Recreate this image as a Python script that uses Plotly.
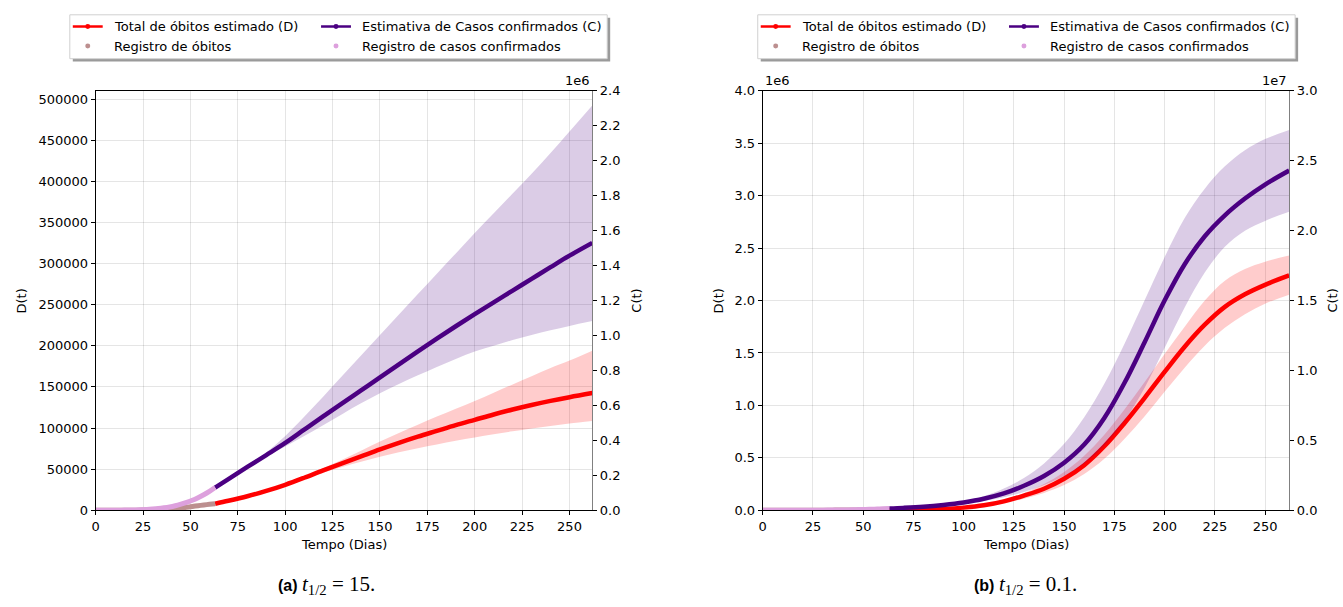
import plotly.graph_objects as go

W, H = 1343, 607

# ---------------- data ----------------
days_reg = [0, 3, 6, 9, 12, 15, 18, 21, 24, 27, 30, 33, 36, 39, 42, 45, 48, 51, 54, 57, 60, 63]
reg_cases = [0, 10, 50, 150, 350, 700, 1200, 2000, 3000, 4500, 7000, 10000, 14000, 19000,
             26000, 35000, 45000, 57000, 72000, 89000, 108000, 130000]
reg_deaths = [0, 0, 0, 1, 5, 15, 40, 90, 180, 320, 520, 800, 1150, 1600, 2200, 2900, 3700,
              4600, 5500, 6400, 7200, 8000]

days_est = [63, 70, 80, 90, 100, 110, 120, 130, 140, 150, 160, 170, 180, 190, 200, 210, 220,
            230, 240, 250, 262]

# (a) t1/2 = 15
a_D_mid = [8000, 11500, 17000, 23500, 31000, 39500, 48500, 57000, 65500, 74000, 82000, 89500,
           96500, 103500, 110000, 116500, 122500, 128000, 133000, 137500, 142500]
a_D_up = [8000, 11500, 17000, 23600, 31500, 40500, 51000, 61500, 72500, 83500, 94000, 104000,
          114000, 123500, 133000, 143000, 153000, 163000, 173000, 182000, 194000]
a_D_lo = [8000, 11500, 17000, 23400, 30500, 38000, 45500, 52500, 59000, 65000, 70500, 75500,
          80000, 84500, 88500, 92500, 96000, 99500, 102500, 105500, 108600]
a_C_mid = [130000, 178000, 248000, 316000, 385000, 461000, 537000, 612000, 686000, 760000,
           835000, 909000, 982000, 1053000, 1122000, 1190000, 1257000, 1324000, 1391000,
           1457000, 1530000]
a_C_up = [130000, 178000, 250000, 330000, 425000, 535000, 650000, 768000, 886000, 1003000,
          1120000, 1237000, 1354000, 1470000, 1587000, 1700000, 1813000, 1926000, 2044000,
          2167000, 2316000]
a_C_lo = [130000, 178000, 246000, 308000, 365000, 425000, 487000, 550000, 612000, 670000,
          722000, 772000, 820000, 866000, 908000, 942000, 974000, 1003000, 1030000, 1055000,
          1083000]

# (b) t1/2 = 0.1
b_D_mid = [1000, 2000, 5000, 12000, 25000, 47000, 85000, 140000, 205000, 300000, 430000,
           610000, 830000, 1070000, 1320000, 1560000, 1770000, 1940000, 2060000, 2150000,
           2240000]
b_D_up = [1000, 2200, 5500, 14000, 29000, 56000, 100000, 165000, 250000, 365000, 520000,
          720000, 960000, 1220000, 1490000, 1750000, 2000000, 2190000, 2300000, 2370000,
          2430000]
b_D_lo = [1000, 1800, 4500, 10000, 21000, 40000, 70000, 110000, 165000, 240000, 345000,
          490000, 680000, 895000, 1130000, 1360000, 1570000, 1740000, 1870000, 1970000,
          2056000]
b_C_mid = [130000, 170000, 250000, 380000, 560000, 820000, 1200000, 1750000, 2450000,
           3400000, 4700000, 6600000, 9100000, 12000000, 15000000, 17600000, 19600000,
           21100000, 22300000, 23300000, 24300000]
b_C_up = [130000, 175000, 270000, 430000, 660000, 1000000, 1550000, 2300000, 3350000,
          4750000, 6650000, 9050000, 11900000, 15000000, 18100000, 20900000, 23000000,
          24600000, 25750000, 26550000, 27200000]
b_C_lo = [130000, 165000, 230000, 340000, 480000, 670000, 930000, 1300000, 1800000, 2450000,
          3350000, 4650000, 6400000, 8750000, 11600000, 14500000, 17000000, 18850000,
          20000000, 20700000, 21350000]

x_ticks = [0, 25, 50, 75, 100, 125, 150, 175, 200, 225, 250]
a_D_ticks = [0, 50000, 100000, 150000, 200000, 250000, 300000, 350000, 400000, 450000, 500000]
a_C_ticks = [0, 200000, 400000, 600000, 800000, 1000000, 1200000, 1400000, 1600000, 1800000,
             2000000, 2200000, 2400000]
a_C_ticktext = ["0.0", "0.2", "0.4", "0.6", "0.8", "1.0", "1.2", "1.4", "1.6", "1.8", "2.0",
                "2.2", "2.4"]
b_D_ticks = [0, 500000, 1000000, 1500000, 2000000, 2500000, 3000000, 3500000, 4000000]
b_D_ticktext = ["0.0", "0.5", "1.0", "1.5", "2.0", "2.5", "3.0", "3.5", "4.0"]
b_C_ticks = [0, 5000000, 10000000, 15000000, 20000000, 25000000, 30000000]
b_C_ticktext = ["0.0", "0.5", "1.0", "1.5", "2.0", "2.5", "3.0"]

legend_labels = ["Total de óbitos estimado (D)", "Estimativa de Casos confirmados (C)",
                 "Registro de óbitos", "Registro de casos confirmados"]

# ---------------- styles ----------------
RED = "#ff0000"
INDIGO = "#4b0082"
ROSY = "#bc8f8f"
PLUM = "#dda0dd"
RED_FILL = "rgba(255,0,0,0.2)"
IND_FILL = "rgba(75,0,130,0.2)"
FONT = "DejaVu Sans"
GRID = "rgba(0,0,0,0.1)"


def X(px):
    return px / W


def Y(py):
    return 1 - py / H


fig = go.Figure()


def band(xa, ya, lo, up, fillcolor):
    fig.add_trace(go.Scatter(x=days_est, y=lo, mode="lines",
                             line=dict(width=0, shape="spline", color="rgba(0,0,0,0)"),
                             xaxis=xa, yaxis=ya, hoverinfo="skip", showlegend=False))
    fig.add_trace(go.Scatter(x=days_est, y=up, mode="lines", fill="tonexty",
                             fillcolor=fillcolor,
                             line=dict(width=0, shape="spline", color="rgba(0,0,0,0)"),
                             xaxis=xa, yaxis=ya, hoverinfo="skip", showlegend=False))


def add_panel(xa, yd, yc, D_mid, D_lo, D_up, C_mid, C_lo, C_up):
    band(xa, yd, D_lo, D_up, RED_FILL)
    fig.add_trace(go.Scatter(x=days_est, y=D_mid, mode="lines",
                             line=dict(color=RED, width=4.5, shape="spline"),
                             xaxis=xa, yaxis=yd, showlegend=False))
    fig.add_trace(go.Scatter(x=days_reg, y=reg_deaths, mode="lines",
                             line=dict(color=ROSY, width=5, shape="spline"),
                             xaxis=xa, yaxis=yd, showlegend=False))
    band(xa, yc, C_lo, C_up, IND_FILL)
    fig.add_trace(go.Scatter(x=days_est, y=C_mid, mode="lines",
                             line=dict(color=INDIGO, width=4.5, shape="spline"),
                             xaxis=xa, yaxis=yc, showlegend=False))
    fig.add_trace(go.Scatter(x=days_reg, y=reg_cases, mode="lines",
                             line=dict(color=PLUM, width=5, shape="spline"),
                             xaxis=xa, yaxis=yc, showlegend=False))


add_panel("x", "y", "y2", a_D_mid, a_D_lo, a_D_up, a_C_mid, a_C_lo, a_C_up)
add_panel("x2", "y3", "y4", b_D_mid, b_D_lo, b_D_up, b_C_mid, b_C_lo, b_C_up)

tickfont = dict(family=FONT, size=13, color="#000")
common_x = dict(range=[0, 262], tickvals=x_ticks, ticks="outside", ticklen=4, tickcolor="#000",
                showline=True, linecolor="#000", linewidth=1, mirror=True, showgrid=True,
                gridcolor=GRID, zeroline=False, tickfont=tickfont, fixedrange=True)
common_y = dict(ticks="outside", ticklen=4, tickcolor="#000", showline=True, linecolor="#000",
                linewidth=1, showgrid=True, gridcolor=GRID, zeroline=False, tickfont=tickfont)
common_y2 = dict(ticks="outside", ticklen=4, tickcolor="#000", showline=True,
                 linecolor="#808080", linewidth=1, showgrid=False, zeroline=False,
                 tickfont=tickfont, side="right")

ydom = [Y(516), Y(86)]
fig.update_layout(
    width=W, height=H, margin=dict(l=0, r=0, t=0, b=0),
    paper_bgcolor="white", plot_bgcolor="white", showlegend=False,
    xaxis=dict(domain=[X(92), X(590)], anchor="y", **common_x),
    yaxis=dict(domain=ydom, anchor="x", range=[0, 510000], tickvals=a_D_ticks,
               tickformat="d", **common_y),
    yaxis2=dict(overlaying="y", anchor="x", range=[0, 2400000], tickvals=a_C_ticks,
                ticktext=a_C_ticktext, **common_y2),
    xaxis2=dict(domain=[X(761), X(1289)], anchor="y3", **common_x),
    yaxis3=dict(domain=ydom, anchor="x2", range=[0, 4000000], tickvals=b_D_ticks,
                ticktext=b_D_ticktext, **common_y),
    yaxis4=dict(overlaying="y3", anchor="x2", range=[0, 30000000], tickvals=b_C_ticks,
                ticktext=b_C_ticktext, **common_y2),
)

ann = []
shapes = []


def text(px, py, s, size=13, xa="center", ya="middle", angle=0, family=FONT):
    ann.append(dict(x=X(px), y=Y(py), xref="paper", yref="paper", text=s, showarrow=False,
                    xanchor=xa, yanchor=ya, textangle=angle,
                    font=dict(family=family, size=size, color="#000")))


# axis titles
text(341, 551, "Tempo (Dias)")
text(1025, 551, "Tempo (Dias)")
text(18, 301, "D(t)", angle=-90)
text(634, 301, "C(t)", angle=-90)
text(717, 301, "D(t)", angle=-90)
text(1333, 301, "C(t)", angle=-90)
# offset labels
text(590, 85, "1e6", xa="right", ya="bottom")
text(761, 85, "1e6", xa="left", ya="bottom")
text(1289, 85, "1e7", xa="right", ya="bottom")

# captions
serif = "font-family:'Liberation Serif',serif;font-size:21px"
text(323, 593, "<b>(a)</b> <span style=\"" + serif + "\"><i>t</i><sub>1/2</sub> = 15.</span>",
     size=16, family="Liberation Sans")
text(1025, 593, "<b>(b)</b> <span style=\"" + serif + "\"><i>t</i><sub>1/2</sub> = 0.1.</span>",
     size=16, family="Liberation Sans")


# manual legends
def legend(x0):
    wbox, top, bot = 539, 8, 53
    shapes.append(dict(type="rect", xref="paper", yref="paper", x0=X(x0 + 3), x1=X(x0 + wbox + 3),
                       y0=Y(bot + 3), y1=Y(top + 3), fillcolor="#9a9a9a", line=dict(width=0),
                       layer="above"))
    shapes.append(dict(type="rect", xref="paper", yref="paper", x0=X(x0), x1=X(x0 + wbox),
                       y0=Y(bot), y1=Y(top), fillcolor="white",
                       line=dict(color="#d0d0d0", width=1), layer="above"))
    rows = [20, 40]
    cols = [(3, 42), (252, 291)]
    entries = [(0, 0, RED, True), (0, 1, INDIGO, True), (1, 0, ROSY, False), (1, 1, PLUM, False)]
    for i, (r, c, col, is_line) in enumerate(entries):
        py = rows[r]
        lx, tx = cols[c]
        cx = x0 + lx + 15
        if is_line:
            shapes.append(dict(type="line", xref="paper", yref="paper", x0=X(x0 + lx),
                               x1=X(x0 + lx + 30), y0=Y(py), y1=Y(py),
                               line=dict(color=col, width=2.5), layer="above"))
        shapes.append(dict(type="circle", xref="paper", yref="paper", x0=X(cx - 2.5),
                           x1=X(cx + 2.5), y0=Y(py + 2.5), y1=Y(py - 2.5), fillcolor=col,
                           line=dict(width=0), layer="above"))
        text(x0 + tx, py, legend_labels[i], xa="left")


legend(66)
legend(756)

fig.update_layout(annotations=ann, shapes=shapes)
fig.write_html(
    "out.html", config={"displayModeBar": False},
    post_script=("document.documentElement.style.margin='0';"
                 "document.body.style.margin='0';document.body.style.padding='0';"
                 "document.body.style.overflow='hidden';"
                 "var gd=document.getElementById('{plot_id}');"
                 "gd.style.position='fixed';gd.style.left='0px';gd.style.top='0px';"))
